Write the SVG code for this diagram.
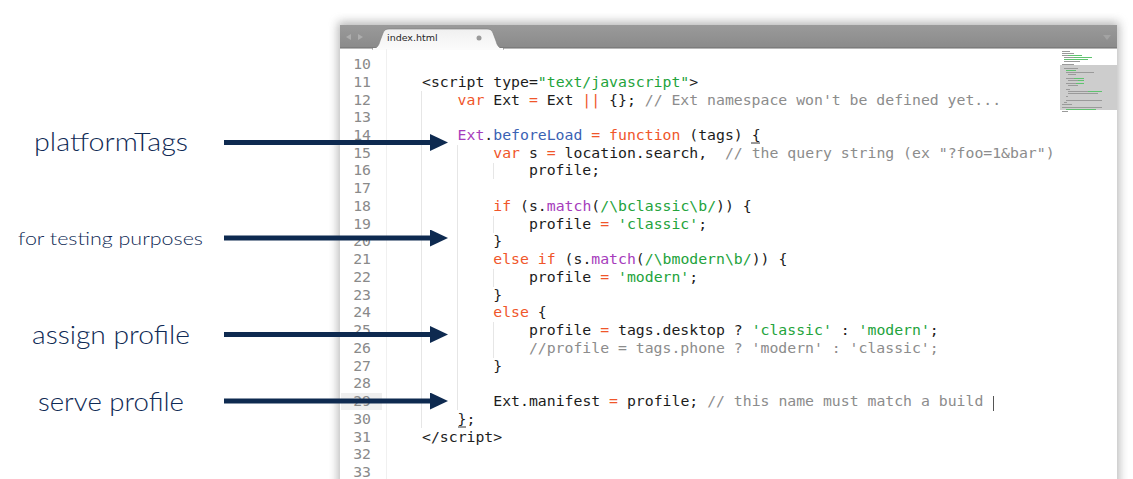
<svg xmlns="http://www.w3.org/2000/svg" width="1133" height="479" viewBox="0 0 1133 479">
<style>
.lbl{font-family:"Lato","Liberation Sans",sans-serif;font-weight:300;fill:#0f2a55}
.code{font-family:"DejaVu Sans Mono","Liberation Mono",monospace;font-size:14.8px;fill:#1c1c1c;white-space:pre}
.ln{font-family:"DejaVu Sans Mono","Liberation Mono",monospace;font-size:14.8px;fill:#8a8a8a;text-anchor:end}
.k{fill:#f0562a}
.p{fill:#a63cbc}
.b{fill:#3a62b4}
.s{fill:#23a33b}
.c{fill:#8c8c8c}
.guide{stroke:#e6e6e6;stroke-width:1}
.arrow{stroke:#0e2a50;stroke-width:5;fill:none;marker-end:url(#head)}
.mm{fill:#9a9a9a}
.mg{fill:#5fc36f}
</style>
<defs>
<marker id="head" markerUnits="userSpaceOnUse" markerWidth="18" markerHeight="17" refX="2" refY="8.5" orient="auto">
<path d="M0,0 L18,8.5 L0,17 Z" fill="#0e2a50"/>
</marker>
<filter id="shadow" x="-5%" y="-10%" width="110%" height="120%">
<feGaussianBlur stdDeviation="5"/>
</filter>
<linearGradient id="tabg" x1="0" y1="0" x2="0" y2="1">
<stop offset="0" stop-color="#f0f0f0"/>
<stop offset="1" stop-color="#fbfbfb"/>
</linearGradient>
<linearGradient id="barg" x1="0" y1="0" x2="0" y2="1">
<stop offset="0" stop-color="#9a9a9a"/>
<stop offset="1" stop-color="#8a8a8a"/>
</linearGradient>
</defs>
<rect width="1133" height="479" fill="#ffffff"/>

<g id="editor">
<rect x="338" y="22" width="781" height="480" fill="#7a7a7a" opacity="0.55" filter="url(#shadow)"/>
<rect x="340" y="25" width="777" height="460" fill="#ffffff"/>
<rect x="340" y="25" width="777" height="23" fill="url(#barg)"/>
<line x1="340" y1="48" x2="1117" y2="48" stroke="#6f6f6f" stroke-width="1"/>
<path d="M372,49 C377,49 379,45 380,41 L383,33 C384,30 386,29 389,29 L487,29 C490,29 492,30 493,33 L496,41 C497,45 499,49 504,49 Z" fill="url(#tabg)" stroke="#7a7a7a" stroke-width="0.6"/>
<rect x="373" y="48" width="130" height="2" fill="#fbfbfb"/>
<text x="387" y="41" style="font-family:'DejaVu Sans','Liberation Sans',sans-serif;font-size:9.5px;fill:#262626">index.html</text>
<circle cx="479" cy="38" r="2.5" fill="#9a9a9a"/>
<polygon points="346,37 351,34 351,40" fill="#adadad"/>
<polygon points="363,37 358,34 358,40" fill="#adadad"/>
<polygon points="1103,35 1111,35 1107,40" fill="#a3a3a3"/>

<!-- gutter -->
<rect x="341" y="393" width="41" height="17" fill="#efefef"/>
<line x1="386.5" y1="49" x2="386.5" y2="479" stroke="#f0f0f0"/>
<g class="ln">
<text x="371" y="69">10</text>
<text x="371" y="86.7">11</text>
<text x="371" y="104.5">12</text>
<text x="371" y="122.2">13</text>
<text x="371" y="140">14</text>
<text x="371" y="157.7">15</text>
<text x="371" y="175.4">16</text>
<text x="371" y="193.2">17</text>
<text x="371" y="210.9">18</text>
<text x="371" y="228.7">19</text>
<text x="371" y="246.4">20</text>
<text x="371" y="264.1">21</text>
<text x="371" y="281.9">22</text>
<text x="371" y="299.6">23</text>
<text x="371" y="317.4">24</text>
<text x="371" y="335.1">25</text>
<text x="371" y="352.8">26</text>
<text x="371" y="370.6">27</text>
<text x="371" y="388.3">28</text>
<text x="371" y="406.1">29</text>
<text x="371" y="423.8">30</text>
<text x="371" y="441.5">31</text>
<text x="371" y="459.3">32</text>
<text x="371" y="477">33</text>
</g>

<!-- indent guides -->
<line class="guide" x1="421.5" y1="91" x2="421.5" y2="428"/>
<line class="guide" x1="457.5" y1="145" x2="457.5" y2="410"/>
<line class="guide" x1="493.5" y1="163" x2="493.5" y2="179"/>
<line class="guide" x1="493.5" y1="216" x2="493.5" y2="233"/>
<line class="guide" x1="493.5" y1="269" x2="493.5" y2="287"/>
<line class="guide" x1="493.5" y1="322" x2="493.5" y2="358"/>

<!-- code -->
<g class="code" xml:space="preserve">
<text x="422" y="86.7">&lt;script type=<tspan class="s">"text/javascript"</tspan>&gt;</text>
<text x="457.6" y="104.5"><tspan class="k">var</tspan> Ext <tspan class="k">=</tspan> Ext <tspan class="k">||</tspan> {}; <tspan class="c">// Ext namespace won't be defined yet...</tspan></text>
<text x="457.6" y="140"><tspan class="p">Ext</tspan>.<tspan class="b">beforeLoad</tspan> <tspan class="k">=</tspan> <tspan class="k">function</tspan> (tags) {</text>
<text x="493.3" y="157.7"><tspan class="k">var</tspan> s <tspan class="k">=</tspan> location.search,&#160; <tspan class="c">// the query string (ex "?foo=1&amp;bar")</tspan></text>
<text x="528.9" y="175.4">profile;</text>
<text x="493.3" y="210.9"><tspan class="k">if</tspan> (s.<tspan class="p">match</tspan>(<tspan class="s">/\bclassic\b/</tspan>)) {</text>
<text x="528.9" y="228.7">profile <tspan class="k">=</tspan> <tspan class="s">'classic'</tspan>;</text>
<text x="493.3" y="246.4">}</text>
<text x="493.3" y="264.1"><tspan class="k">else if</tspan> (s.<tspan class="p">match</tspan>(<tspan class="s">/\bmodern\b/</tspan>)) {</text>
<text x="528.9" y="281.9">profile <tspan class="k">=</tspan> <tspan class="s">'modern'</tspan>;</text>
<text x="493.3" y="299.6">}</text>
<text x="493.3" y="317.4"><tspan class="k">else</tspan> {</text>
<text x="528.9" y="335.1">profile <tspan class="k">=</tspan> tags.desktop ? <tspan class="s">'classic'</tspan> : <tspan class="s">'modern'</tspan>;</text>
<text x="528.9" y="352.8"><tspan class="c">//profile = tags.phone ? 'modern' : 'classic';</tspan></text>
<text x="493.3" y="370.6">}</text>
<text x="493.3" y="406.1">Ext.manifest <tspan class="k">=</tspan> profile; <tspan class="c">// this name must match a build</tspan></text>
<text x="457.6" y="423.8">};</text>
<text x="422" y="441.5">&lt;/script&gt;</text>
</g>
<line x1="751" y1="143" x2="760" y2="143" stroke="#333" stroke-width="1"/>
<line x1="458" y1="427" x2="466" y2="427" stroke="#333" stroke-width="1"/>
<line x1="993.5" y1="396" x2="993.5" y2="411" stroke="#555" stroke-width="1"/>

<!-- minimap -->
<g id="minimap">
<rect x="1060" y="65" width="57" height="45" fill="#bcbcbc" opacity="0.75"/>
<rect class="mm" x="1062" y="51" width="8" height="1"/>
<rect class="mm" x="1062" y="53" width="12" height="1"/>
<rect class="mm" x="1062" y="55" width="6" height="1"/>
<rect class="mg" x="1068" y="55" width="14" height="1"/>
<rect class="mm" x="1064" y="57" width="10" height="1"/>
<rect class="mg" x="1074" y="57" width="18" height="1"/>
<rect class="mg" x="1064" y="59" width="24" height="1"/>
<rect class="mm" x="1064" y="61" width="16" height="1"/>
<rect class="mm" x="1062" y="64" width="12" height="1"/>
<rect class="mm" x="1064" y="68" width="14" height="1"/>
<rect class="mg" x="1066" y="70" width="10" height="1"/>
<rect class="mm" x="1066" y="72" width="28" height="1"/>
<rect class="mm" x="1068" y="74" width="8" height="1"/>
<rect class="mm" x="1066" y="78" width="8" height="1"/>
<rect class="mg" x="1074" y="78" width="10" height="1"/>
<rect class="mm" x="1068" y="80" width="10" height="1"/>
<rect class="mg" x="1078" y="80" width="6" height="1"/>
<rect class="mm" x="1066" y="83" width="10" height="1"/>
<rect class="mg" x="1076" y="83" width="8" height="1"/>
<rect class="mm" x="1068" y="85" width="10" height="1"/>
<rect class="mm" x="1066" y="89" width="4" height="1"/>
<rect class="mm" x="1068" y="91" width="20" height="1"/>
<rect class="mg" x="1088" y="91" width="14" height="1"/>
<rect class="mm" x="1068" y="93" width="30" height="1"/>
<rect class="mm" x="1066" y="96" width="2" height="1"/>
<rect class="mm" x="1066" y="100" width="36" height="1"/>
<rect class="mm" x="1064" y="102" width="3" height="1"/>
<rect class="mm" x="1062" y="104" width="10" height="1"/>
<rect class="mm" x="1062" y="107" width="40" height="1"/>
<rect class="mg" x="1066" y="109" width="30" height="1"/>
<rect class="mm" x="1062" y="111" width="6" height="1"/>
</g>
</g>

<g id="label-platformTags"><text class="lbl" x="34" y="151" font-size="25" textLength="154" lengthAdjust="spacingAndGlyphs">platformTags</text></g>
<g id="label-testing"><text class="lbl" x="18" y="245" font-size="17.5" textLength="185" lengthAdjust="spacingAndGlyphs">for testing purposes</text></g>
<g id="label-assign"><text class="lbl" x="32" y="344" font-size="25" textLength="158" lengthAdjust="spacingAndGlyphs">assign profile</text></g>
<g id="label-serve"><text class="lbl" x="38" y="411" font-size="25" textLength="146" lengthAdjust="spacingAndGlyphs">serve profile</text></g>

<g id="connectors">
<line class="arrow" x1="224" y1="142.5" x2="432" y2="142.5"/>
<line class="arrow" x1="224" y1="238" x2="432" y2="238"/>
<line class="arrow" x1="224" y1="334.5" x2="432" y2="334.5"/>
<line class="arrow" x1="224" y1="401" x2="432" y2="401"/>
</g>
</svg>
